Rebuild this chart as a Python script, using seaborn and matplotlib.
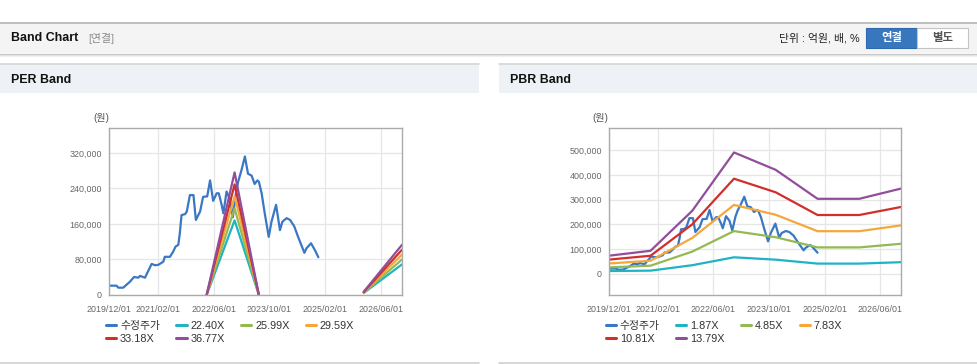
import pandas as pd
import matplotlib
matplotlib.use("Agg")
import matplotlib.pyplot as plt
import matplotlib.dates as mdates
from matplotlib.patches import Rectangle
from matplotlib.lines import Line2D
from matplotlib.ticker import FuncFormatter
import seaborn as sns

W, H = 978, 364

# 수정주가 (adjusted price)
price_dates = ["2019-12-01", "2020-02-05", "2020-02-20", "2020-04-03", "2020-06-01", "2020-07-07",
               "2020-08-13", "2020-08-28", "2020-10-10", "2020-12-07", "2021-01-06", "2021-02-04",
               "2021-03-19", "2021-04-01", "2021-05-16", "2021-06-13", "2021-07-04", "2021-07-28",
               "2021-08-10", "2021-08-25", "2021-09-25", "2021-10-10", "2021-11-06", "2021-12-07",
               "2021-12-28", "2022-02-03", "2022-03-01", "2022-04-06", "2022-05-01", "2022-05-28",
               "2022-06-28", "2022-07-16", "2022-08-10", "2022-08-25", "2022-09-22", "2022-10-22",
               "2022-11-16", "2022-12-13", "2023-01-01", "2023-01-31", "2023-03-01", "2023-03-28",
               "2023-04-28", "2023-05-25", "2023-06-18", "2023-07-01", "2023-07-25", "2023-08-21",
               "2023-09-25", "2023-10-19", "2023-11-28", "2024-01-01", "2024-01-22", "2024-02-28",
               "2024-03-29", "2024-05-04", "2024-06-07", "2024-08-01", "2024-08-19", "2024-09-28",
               "2024-11-01", "2024-12-01"]
price_values = [21000, 21000, 16500, 16500, 30000, 40600, 39000, 43000, 39000, 70000, 67000, 68000,
                75000, 86000, 86000, 97600, 109000, 113000, 139000, 180000, 182000, 188000, 225000,
                225000, 169000, 188000, 221000, 222000, 258000, 212000, 229000, 229000, 203000,
                184000, 233000, 215000, 175000, 230000, 255000, 282000, 312000, 273000, 269000,
                250000, 258000, 255000, 229000, 184000, 131000, 165000, 203000, 146000, 165000,
                173000, 169000, 155000, 131000, 95000, 105000, 116500, 101000, 85000]

# PER band
per_labels = ["22.40X", "25.99X", "29.59X", "33.18X", "36.77X"]
per_band_dates = ["2022-04-01", "2022-12-01", "2023-07-01", "2026-01-01", "2026-12-01"]
per_band_segment = [0, 0, 0, 1, 1]
per_22_40 = [0, 168000, 0, 4500, 69000]
per_25_99 = [0, 195000, 0, 5200, 80000]
per_29_59 = [0, 222000, 0, 5900, 91000]
per_33_18 = [0, 249000, 0, 6600, 102000]
per_36_77 = [0, 276000, 0, 7400, 113000]

# PBR band
pbr_labels = ["1.87X", "4.85X", "7.83X", "10.81X", "13.79X"]
pbr_band_dates = ["2019-12-01", "2020-12-01", "2021-12-01", "2022-12-01", "2023-12-01",
                  "2024-12-01", "2025-12-01", "2026-12-01"]
pbr_1_87 = [11000, 12600, 34600, 66600, 57000, 41100, 41100, 46800]
pbr_4_85 = [25700, 32700, 89700, 172700, 147900, 106700, 106700, 121300]
pbr_7_83 = [41400, 52800, 144900, 278700, 238800, 172300, 172300, 195800]
pbr_10_81 = [57200, 72900, 200000, 384800, 329700, 237800, 237800, 270300]
pbr_13_79 = [72900, 93000, 255000, 491000, 420600, 303400, 303400, 344800]

price_label = "수정주가"
colors = ["#3a77c4", "#1fb3c4", "#93ba52", "#f3a83b", "#d02f2c", "#924d9b"]

x_ticks = ["2019-12-01", "2021-02-01", "2022-06-01", "2023-10-01", "2025-02-01", "2026-06-01"]
x_range = ["2019-12-01", "2026-12-01"]

sns.set_style("white")
plt.rcParams["font.family"] = ["Liberation Sans", "Noto Sans CJK KR"]


def long_frame(labels, dates, segs, bands):
    rows = [pd.DataFrame({"date": pd.to_datetime(price_dates), "value": price_values,
                          "series": price_label, "seg": 0})]
    for lab, vals in zip(labels, bands):
        rows.append(pd.DataFrame({"date": pd.to_datetime(dates), "value": vals,
                                  "series": lab, "seg": segs}))
    return pd.concat(rows, ignore_index=True)


def fx(x):
    return x / W


def fy(y):
    return 1 - y / H


def rect(fig, x0, y0, x1, y1, color, z=0):
    fig.patches.append(Rectangle((fx(x0), fy(y1)), (x1 - x0) / W, (y1 - y0) / H,
                                 transform=fig.transFigure, facecolor=color,
                                 edgecolor="none", zorder=z))


def hline(fig, x0, x1, y, color, lw=1.0):
    fig.add_artist(Line2D([fx(x0), fx(x1)], [fy(y), fy(y)], transform=fig.transFigure,
                          color=color, lw=lw))


fig = plt.figure(figsize=(W / 100, H / 100), dpi=100)
fig.patch.set_facecolor("white")

# top header bar
rect(fig, 0, 22, W, 53, "#f4f4f4")
hline(fig, 0, W, 22.5, "#b4b4b4", 1.2)
hline(fig, 0, W, 53.5, "#c4c4c4", 0.9)
hline(fig, 0, W, 54.5, "#e2e2e2", 0.9)
hline(fig, 0, W, 55.5, "#f0f0f0", 0.9)
fig.text(fx(11), fy(38), "Band Chart", fontsize=8.9, fontweight="bold", color="#111111", va="center")
fig.text(fx(88), fy(38), "[연결]", fontsize=7.8, color="#8a8a8a", va="center")
fig.text(fx(860), fy(38), "단위 : 억원, 배, %", fontsize=7.8, color="#222222", va="center", ha="right")
fig.patches.append(Rectangle((fx(866), fy(47.5)), 51 / W, 19.5 / H, transform=fig.transFigure,
                             facecolor="#3877be", edgecolor="#2f69ad", lw=0.8))
fig.patches.append(Rectangle((fx(917), fy(47.5)), 51 / W, 19.5 / H, transform=fig.transFigure,
                             facecolor="white", edgecolor="#c4c4c4", lw=0.8))
fig.text(fx(891.5), fy(38), "연결", fontsize=8.2, fontweight="bold", color="white", va="center", ha="center")
fig.text(fx(942.5), fy(38), "별도", fontsize=8.2, fontweight="bold", color="#555555", va="center", ha="center")

panels = [
    (0, 479, "PER Band", 109, 402, per_labels, per_band_dates, per_band_segment,
     [per_22_40, per_25_99, per_29_59, per_33_18, per_36_77], (0, 376000),
     [0, 80000, 160000, 240000, 320000]),
    (499, 978, "PBR Band", 608.7, 901, pbr_labels, pbr_band_dates, [0] * len(pbr_band_dates),
     [pbr_1_87, pbr_4_85, pbr_7_83, pbr_10_81, pbr_13_79], (-86000, 590000),
     [0, 100000, 200000, 300000, 400000, 500000]),
]

for px0, px1, title, ax0, ax1, labels, dates, segs, bands, ylim, yticks in panels:
    rect(fig, px0, 64, px1, 93, "#eef2f6")
    hline(fig, px0, px1, 64.3, "#d6d6d6", 1.2)
    hline(fig, px0, px1, 362.5, "#d0d0d0", 1.2)
    fig.text(fx(px0 + 11), fy(80), title, fontsize=8.9, fontweight="bold", color="#111111", va="center")
    fig.text(fx(ax0 - 16), fy(118), "(원)", fontsize=7.2, color="#555555", va="center")

    ax = fig.add_axes([fx(ax0), fy(295), (ax1 - ax0) / W, (295 - 128) / H])
    df = long_frame(labels, dates, segs, bands)
    order = [price_label] + labels
    sns.lineplot(data=df, x="date", y="value", hue="series", hue_order=order,
                 units="seg", estimator=None, palette=dict(zip(order, colors)),
                 lw=1.6, legend=False, ax=ax, sort=False)

    ax.set_xlim(pd.to_datetime(x_range[0]), pd.to_datetime(x_range[1]))
    ax.set_ylim(*ylim)
    ax.set_xticks(pd.to_datetime(x_ticks))
    ax.xaxis.set_major_formatter(mdates.DateFormatter("%Y/%m/%d"))
    ax.set_yticks(yticks)
    ax.yaxis.set_major_formatter(FuncFormatter(lambda v, p: f"{int(v):,}"))
    ax.set_xlabel("")
    ax.set_ylabel("")
    ax.grid(True, color="#e6e6e6", lw=0.9)
    ax.set_axisbelow(True)
    for s in ax.spines.values():
        s.set_color("#aaaaaa")
        s.set_linewidth(1.0)
    ax.tick_params(axis="both", length=0, labelsize=6.4, labelcolor="#666666")
    ax.tick_params(axis="x", pad=7)
    ax.tick_params(axis="y", pad=5)

    handles = [Line2D([], [], color=c, lw=2.2) for c in colors]
    names = order
    # row-major look: matplotlib fills columns first
    idx = [0, 4, 1, 5, 2, 3]
    fig.legend([handles[i] for i in idx], [names[i] for i in idx],
               loc="upper left", bbox_to_anchor=(fx(ax0 - 3), fy(321)), ncol=4,
               frameon=False, fontsize=7.8, handlelength=0.95, handletextpad=0.35,
               columnspacing=1.5, labelspacing=0.25, borderaxespad=0, borderpad=0,
               labelcolor="#333333")

fig.savefig("out.png", dpi=100, facecolor="white")
